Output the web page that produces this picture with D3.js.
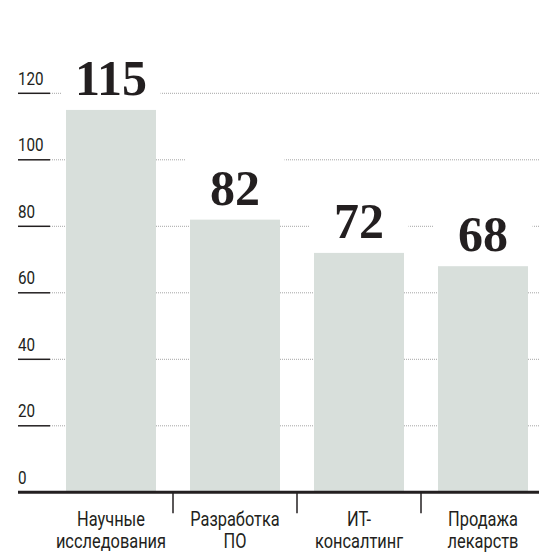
<!DOCTYPE html>
<html>
<head>
	<meta charset="utf-8">
	<script src="https://d3js.org/d3.v7.min.js"></script>
	<style>
		body { margin: 0; background: #fff; }
		.tick-label, .cat-label { font-family: Roboto, "DejaVu Sans Condensed", sans-serif; fill: #231f20; }
		.value-label { font-family: "Liberation Serif", serif; font-weight: bold; fill: #231f20; }
	</style>
</head>
<body>
<div id="chart"></div>

<script type="text/javascript">
	var categories = ['Научные исследования', 'Разработка ПО', 'ИТ-консалтинг', 'Продажа лекарств'];
	var labelLines = [['Научные', 'исследования'], ['Разработка', 'ПО'], ['ИТ-', 'консалтинг'], ['Продажа', 'лекарств']];
	var values = [115, 82, 72, 68];
	var yTicks = [0, 20, 40, 60, 80, 100, 120];

	var width = 539, height = 552;
	var axisLeft = 18, gridLeft = 50;
	var squeeze = 0.8; // fake a condensed face

	var svg = d3.select('#chart')
		.append('svg')
		.attr('width', width)
		.attr('height', height);

	var y = d3.scaleLinear()
		.domain([0, 120])
		.range([492.3, 93.3]);

	var x = d3.scaleBand()
		.domain(categories)
		.range([49, 545])
		.paddingInner(34 / 124)
		.paddingOuter(17 / 124);

	// dotted grid
	svg.selectAll('.grid')
		.data(yTicks.filter(d => d > 0))
		.enter()
		.append('line')
		.attr('class', 'grid')
		.attr('x1', gridLeft)
		.attr('x2', width)
		.attr('y1', d => y(d))
		.attr('y2', d => y(d))
		.attr('stroke', '#a5a5a5')
		.attr('stroke-width', 1)
		.attr('stroke-dasharray', '1,1');

	// white space above each bar hides grid under the numbers
	svg.selectAll('.halo')
		.data(values)
		.enter()
		.append('rect')
		.attr('x', (d, i) => x(categories[i]) - 4.5)
		.attr('width', x.bandwidth() + 9)
		.attr('y', d => y(d) - 68)
		.attr('height', 68)
		.attr('fill', '#fff');

	svg.selectAll('.bar')
		.data(values)
		.enter()
		.append('rect')
		.attr('class', 'bar')
		.attr('x', (d, i) => x(categories[i]))
		.attr('width', x.bandwidth())
		.attr('y', d => y(d))
		.attr('height', d => y(0) - y(d))
		.attr('fill', '#d8dfdb');

	svg.selectAll('.value-label')
		.data(values)
		.enter()
		.append('text')
		.attr('class', 'value-label')
		.attr('x', (d, i) => x(categories[i]) + x.bandwidth() / 2)
		.attr('y', d => y(d) - 15)
		.attr('text-anchor', 'middle')
		.attr('font-size', 50)
		.text(d => d);

	// y ticks: short solid line + label above it
	var ticks = svg.selectAll('.ytick')
		.data(yTicks)
		.enter()
		.append('g')
		.attr('class', 'ytick')
		.attr('transform', d => 'translate(0,' + y(d) + ')');

	ticks.filter(d => d > 0)
		.append('line')
		.attr('x1', axisLeft)
		.attr('x2', gridLeft)
		.attr('stroke', '#231f20')
		.attr('stroke-width', 1.5);

	ticks.append('text')
		.attr('class', 'tick-label')
		.attr('transform', 'translate(' + axisLeft + ',-8.5) scale(' + squeeze + ',1)')
		.attr('font-size', 19)
		.text(d => d);

	// baseline
	svg.append('line')
		.attr('x1', axisLeft)
		.attr('x2', width)
		.attr('y1', y(0))
		.attr('y2', y(0))
		.attr('stroke', '#231f20')
		.attr('stroke-width', 3);

	// separators between categories
	svg.selectAll('.sep')
		.data(categories.slice(1))
		.enter()
		.append('line')
		.attr('x1', d => x(d) - 17)
		.attr('x2', d => x(d) - 17)
		.attr('y1', y(0))
		.attr('y2', y(0) + 21)
		.attr('stroke', '#231f20')
		.attr('stroke-width', 1.5);

	var cats = svg.selectAll('.cat-label')
		.data(categories)
		.enter()
		.append('text')
		.attr('class', 'cat-label')
		.attr('text-anchor', 'middle')
		.attr('font-size', 20)
		.attr('transform', d => 'translate(' + (x(d) + x.bandwidth() / 2) + ',526) scale(0.82,1)');

	cats.selectAll('tspan')
		.data((d, i) => labelLines[i])
		.enter()
		.append('tspan')
		.attr('x', 0)
		.attr('dy', (d, i) => i === 0 ? 0 : 22.5)
		.text(d => d);
</script>
</body>
</html>
